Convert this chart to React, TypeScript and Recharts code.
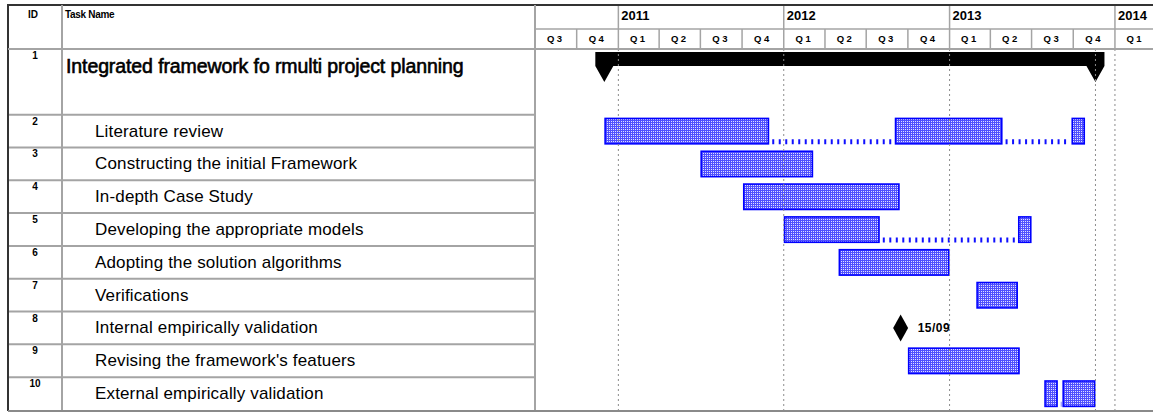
import { ComposedChart, Bar, XAxis, YAxis, ReferenceLine, ReferenceDot } from "recharts";

const taskIds = ["1", "2", "3", "4", "5", "6", "7", "8", "9", "10"];
const taskNames = [
  "Integrated framework fo rmulti project planning",
  "Literature review",
  "Constructing the initial Framework",
  "In-depth Case Study",
  "Developing the appropriate models",
  "Adopting the solution algorithms",
  "Verifications",
  "Internal empirically validation",
  "Revising the framework's featuers",
  "External empirically validation",
];
// [start, finish] pieces of every task, split tasks have several
const taskSegments: [string, string][][] = [
  [["2010-12-01", "2013-11-19"]],
  [["2010-12-01", "2011-11-30"], ["2012-09-02", "2013-04-28"], ["2013-09-27", "2013-10-27"]],
  [["2011-07-01", "2012-03-06"]],
  [["2011-10-03", "2012-09-13"]],
  [["2012-01-01", "2012-07-31"], ["2013-06-01", "2013-07-01"]],
  [["2012-05-01", "2013-01-01"]],
  [["2013-03-01", "2013-06-01"]],
  [],
  [["2012-10-01", "2013-06-05"]],
  [["2013-07-29", "2013-08-28"], ["2013-09-07", "2013-11-19"]],
];
const summaryId = "1";
const milestoneId = "8";
const milestoneDate = "2012-09-15";
const quarterTicks = [
  "2010-07-01", "2010-10-01",
  "2011-01-01", "2011-04-01", "2011-07-01", "2011-10-01",
  "2012-01-01", "2012-04-01", "2012-07-01", "2012-10-01",
  "2013-01-01", "2013-04-01", "2013-07-01", "2013-10-01",
  "2014-01-01",
];
const yearStarts = ["2011-01-01", "2012-01-01", "2013-01-01", "2014-01-01"];
const timeDomain = ["2010-07-01", "2014-03-26"];

const t = (s: string) => new Date(s).getTime();

const W = 1153;
const H = 415;
const TOP = 5;
const HEAD_SPLIT = 29;
const HEAD_BOTTOM = 49;
const BOTTOM = 410;
const TABLE_LEFT = 8;
const ID_RIGHT = 62;
const PLOT_LEFT = 535;
const FONT = "'Liberation Sans', Arial, sans-serif";
const GRID = "#a4a4a4";

const D0 = t(timeDomain[0]);
const D1 = t(timeDomain[1]);
const PX_PER_MS = (W - PLOT_LEFT) / (D1 - D0);

const rows: any[] = [];
taskIds.forEach((id, i) => {
  const row: any = { key: id, id, name: taskNames[i] };
  const segs = taskSegments[i].map(([a, b]) => [t(a), t(b)]);
  if (id === summaryId) {
    row.sum = segs[0];
  } else {
    segs.forEach((s, j) => (row[`s${j}`] = s));
    for (let j = 0; j < segs.length - 1; j++) row[`g${j}`] = [segs[j][1], segs[j + 1][0]];
  }
  rows.push(row);
  // the summary row is twice as tall
  if (id === summaryId) rows.push({ key: id + "+", id: "", name: "" });
});
const BAND = (BOTTOM - HEAD_BOTTOM) / rows.length;
const rowByKey: Record<string, any> = {};
rows.forEach((r) => (rowByKey[r.key] = r));

const projectFinish = t(taskSegments[0][0][1]);

function RowTick(p: any) {
  const row = rowByKey[p.payload.value];
  if (!row) return null;
  const top = p.y - BAND / 2;
  const bottom = p.y + BAND / 2;
  const isSummary = row.id === summaryId;
  const isLast = p.payload.value === rows[rows.length - 1].key;
  return (
    <g>
      {!isSummary && !isLast && (
        <line x1={TABLE_LEFT} x2={PLOT_LEFT} y1={bottom} y2={bottom} stroke={GRID} strokeWidth={2} />
      )}
      {row.id && (
        <text x={(TABLE_LEFT + ID_RIGHT) / 2} y={top + 10} textAnchor="middle" fontFamily={FONT} fontSize={10} fontWeight="bold" fill="#000">
          {row.id}
        </text>
      )}
      {row.name &&
        (isSummary ? (
          <text x={66} y={p.y + 8} fontFamily={FONT} fontSize={19.5} fill="#000" stroke="#000" strokeWidth={0.6} letterSpacing={-0.1}>
            {row.name}
          </text>
        ) : (
          <text x={95} y={p.y + 5.5} fontFamily={FONT} fontSize={17} fill="#000" letterSpacing={0.15}>
            {row.name}
          </text>
        ))}
    </g>
  );
}

function TimeTick(p: any) {
  const v = p.payload.value;
  const d = new Date(v);
  const q = Math.floor(d.getUTCMonth() / 3) + 1;
  const next = Date.UTC(d.getUTCFullYear(), d.getUTCMonth() + 3, 1);
  const qw = (next - v) * PX_PER_MS;
  const x = p.x;
  return (
    <g>
      <line x1={x} x2={x} y1={HEAD_SPLIT} y2={HEAD_BOTTOM} stroke={GRID} strokeWidth={1.5} />
      <text x={x + qw / 2} y={42} textAnchor="middle" fontFamily={FONT} fontSize={9.5} fontWeight="bold" letterSpacing={2.5} fill="#000">
        {`Q${q}`}
      </text>
      {q === 1 && (
        <g>
          <line x1={x} x2={x} y1={TOP} y2={HEAD_SPLIT} stroke={GRID} strokeWidth={1.5} />
          <text x={x + 3} y={20} fontFamily={FONT} fontSize={13} fontWeight="bold" fill="#000">
            {String(d.getUTCFullYear())}
          </text>
        </g>
      )}
    </g>
  );
}

function TaskBar(p: any) {
  const { x, y, width, height } = p;
  if (!(width > 0) || isNaN(x)) return null;
  return <rect x={x + 0.8} y={y + 0.8} width={width - 1.6} height={height - 1.6} fill="url(#dither)" stroke="#0000ff" strokeWidth={1.6} />;
}

function Connector(p: any) {
  const { x, y, width, height } = p;
  if (!(width > 0) || isNaN(x)) return null;
  const yy = y + height - 3;
  return <line x1={x + 3} x2={x + width - 1} y1={yy} y2={yy} stroke="#1010ff" strokeWidth={5} strokeDasharray="2 4.5" />;
}

function SummaryBar(p: any) {
  const { x, y, width } = p;
  if (!(width > 0) || isNaN(x)) return null;
  const r = x + width;
  const h = 14;
  const tip = 30;
  const d = `M${x - 9},${y} L${r + 9},${y} L${r + 9},${y + h} L${r},${y + tip} L${r - 9},${y + h} L${x + 9},${y + h} L${x},${y + tip} L${x - 9},${y + h} Z`;
  return <path d={d} fill="#000" />;
}

function Milestone(p: any) {
  const { cx, cy } = p;
  const md = new Date(milestoneDate);
  const label = `${String(md.getUTCDate()).padStart(2, "0")}/${String(md.getUTCMonth() + 1).padStart(2, "0")}`;
  return (
    <g>
      <path d={`M${cx},${cy - 13.5} L${cx + 7.5},${cy} L${cx},${cy + 13.5} L${cx - 7.5},${cy} Z`} fill="#000" />
      <text x={cx + 17} y={cy + 4} fontFamily={FONT} fontSize={12} fontWeight="bold" fill="#000" letterSpacing={0.5}>
        {label}
      </text>
    </g>
  );
}

export default function App() {
  return (
    <div style={{ position: "absolute", left: 0, top: 0, width: W, height: H, background: "#fff" }}>
      <ComposedChart
        layout="vertical"
        width={W}
        height={H}
        data={rows}
        margin={{ top: TOP, right: 0, bottom: H - BOTTOM, left: TABLE_LEFT }}
        barSize={27}
        barGap={-27}
      >
        <defs>
          <pattern id="dither" width="2" height="2" patternUnits="userSpaceOnUse">
            <rect width="2" height="2" fill="#5050ff" />
            <rect x="1" y="1" width="1" height="1" fill="#e0e0ff" />
          </pattern>
        </defs>
        <XAxis
          type="number"
          domain={[D0, D1]}
          allowDataOverflow
          ticks={quarterTicks.map(t)}
          orientation="top"
          height={HEAD_BOTTOM - TOP}
          axisLine={false}
          tickLine={false}
          interval={0}
          tick={TimeTick}
        />
        <YAxis
          type="category"
          dataKey="key"
          width={PLOT_LEFT - TABLE_LEFT}
          axisLine={false}
          tickLine={false}
          interval={0}
          tick={RowTick}
        />
        {yearStarts.map((d) => (
          <ReferenceLine key={d} x={t(d)} stroke="#8c8c8c" strokeDasharray="2 3" />
        ))}
        <ReferenceLine x={projectFinish} stroke="#8c8c8c" strokeDasharray="2 3" />
        <Bar dataKey="g0" isAnimationActive={false} shape={Connector} />
        <Bar dataKey="g1" isAnimationActive={false} shape={Connector} />
        <Bar dataKey="s0" isAnimationActive={false} shape={TaskBar} />
        <Bar dataKey="s1" isAnimationActive={false} shape={TaskBar} />
        <Bar dataKey="s2" isAnimationActive={false} shape={TaskBar} />
        <Bar dataKey="sum" isAnimationActive={false} shape={SummaryBar} />
        <ReferenceDot x={t(milestoneDate)} y={milestoneId} r={8} shape={Milestone} />
      </ComposedChart>
      <svg width={W} height={H} style={{ position: "absolute", left: 0, top: 0, pointerEvents: "none" }}>
        <line x1={TABLE_LEFT - 1} x2={W} y1={TOP} y2={TOP} stroke="#333" strokeWidth={2} />
        <line x1={TABLE_LEFT} x2={TABLE_LEFT} y1={TOP} y2={BOTTOM + 1} stroke="#333" strokeWidth={2} />
        <line x1={ID_RIGHT} x2={ID_RIGHT} y1={TOP} y2={BOTTOM} stroke={GRID} strokeWidth={2} />
        <line x1={PLOT_LEFT} x2={PLOT_LEFT} y1={TOP} y2={BOTTOM} stroke={GRID} strokeWidth={2} />
        <line x1={TABLE_LEFT} x2={W} y1={HEAD_BOTTOM} y2={HEAD_BOTTOM} stroke={GRID} strokeWidth={2} />
        <line x1={PLOT_LEFT} x2={W} y1={HEAD_SPLIT} y2={HEAD_SPLIT} stroke={GRID} strokeWidth={1.5} />
        <line x1={TABLE_LEFT} x2={W} y1={BOTTOM + 1} y2={BOTTOM + 1} stroke="#8a8a8a" strokeWidth={2} />
        <text x={33} y={18} textAnchor="middle" fontFamily={FONT} fontSize={10} fontWeight="bold">ID</text>
        <text x={65} y={18} fontFamily={FONT} fontSize={10} fontWeight="bold" letterSpacing={-0.3}>Task Name</text>
      </svg>
    </div>
  );
}
